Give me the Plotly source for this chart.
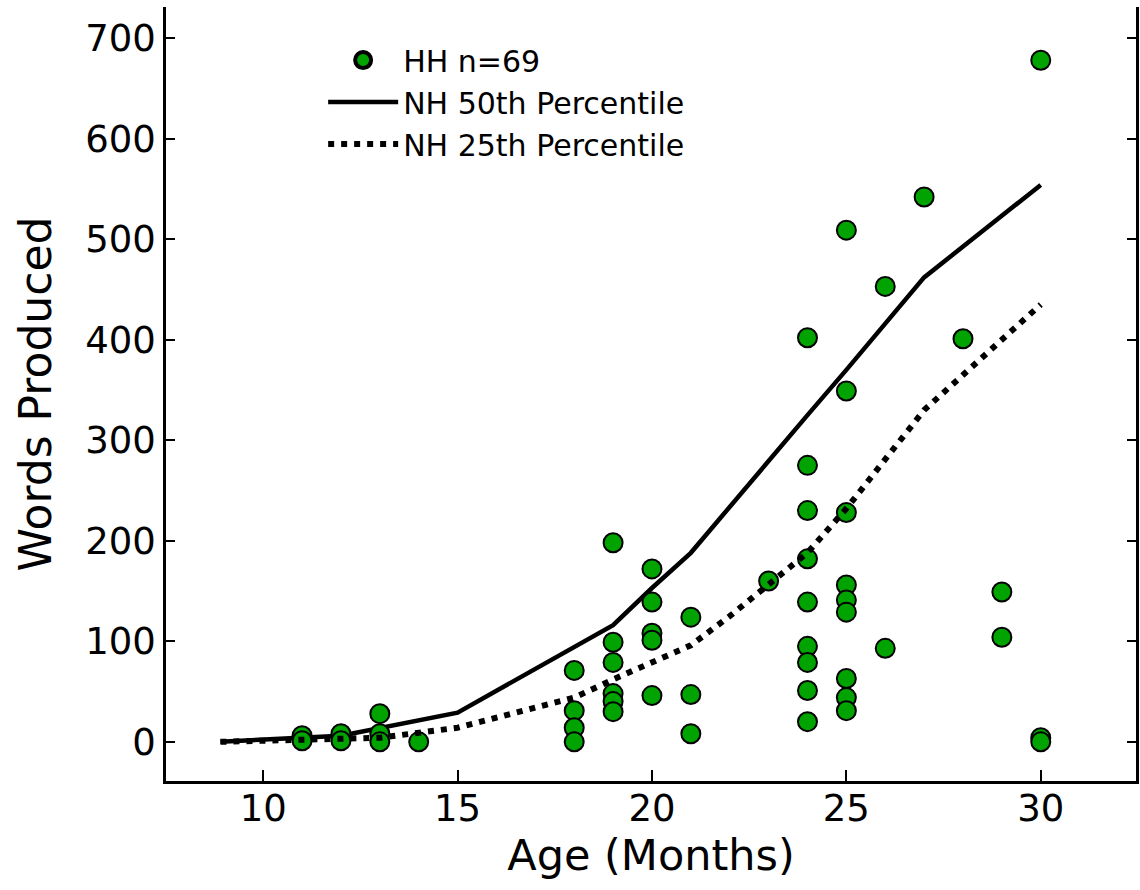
import plotly.graph_objects as go

# HH children: age (months) and words produced
hh_age = [11, 11, 12, 12, 13, 13, 13, 14,
          18, 18, 18, 18,
          19, 19, 19, 19, 19, 19,
          20, 20, 20, 20, 20,
          21, 21, 21,
          23,
          24, 24, 24, 24, 24, 24, 24, 24, 24,
          25, 25, 25, 25, 25, 25, 25, 25, 25,
          26, 26, 27, 28, 29, 29, 30, 30, 30]
hh_words = [6, 1, 8, 1, 28, 8, 0, 0,
            71, 31, 14, 0,
            198, 99, 79, 48, 40, 30,
            172, 139, 108, 101, 46,
            124, 47, 8,
            160,
            402, 275, 230, 182, 139, 95, 79, 51, 20,
            509, 349, 228, 156, 141, 129, 63, 44, 31,
            453, 93, 542, 401, 149, 104, 678, 4, 0]

# NH norms
p50_age = [8.9, 12, 15, 18, 19, 20, 21, 24, 25, 27, 30]
p50_words = [0, 6, 29, 95, 116, 153, 188, 325, 370, 462, 554]
p25_age = [8.9, 12, 13, 15, 18, 19, 20, 21, 22, 23, 24, 25, 27, 30]
p25_words = [0, 2, 4, 14, 44, 62, 79, 96, 125, 157, 188, 232, 330, 435]

x_ticks = [10, 15, 20, 25, 30]
y_ticks = [0, 100, 200, 300, 400, 500, 600, 700]

FONT = "DejaVu Sans"
GREEN = "#00a300"

fig = go.Figure()
fig.add_trace(go.Scatter(
    x=p50_age, y=p50_words, mode="lines", name="NH 50th Percentile",
    line=dict(color="black", width=4.5), legendrank=2))
fig.add_trace(go.Scatter(
    x=hh_age, y=hh_words, mode="markers", name="HH n=69", showlegend=False,
    marker=dict(size=19, color=GREEN, line=dict(color="black", width=2))))
# legend entry for the HH group (thicker outline, as in the original key)
fig.add_trace(go.Scatter(
    x=[None], y=[None], mode="markers", name="HH n=69",
    marker=dict(size=16, color=GREEN, line=dict(color="black", width=4)),
    legendrank=1))
fig.add_trace(go.Scatter(
    x=p25_age, y=p25_words, mode="lines", name="NH 25th Percentile",
    line=dict(color="black", width=6, dash="6px,7px"), legendrank=3))

fig.update_layout(
    width=1140, height=890,
    margin=dict(l=166, r=1, t=7, b=109),
    plot_bgcolor="white", paper_bgcolor="white",
    font=dict(family=FONT, color="black"),
    showlegend=True,
    legend=dict(x=0.162, y=0.965, xanchor="left", yanchor="top",
                bgcolor="rgba(0,0,0,0)", font=dict(size=30, family=FONT),
                itemwidth=70, itemsizing="trace", tracegroupgap=0),
    xaxis=dict(range=[7.5, 32.45], tickvals=x_ticks, showgrid=False, zeroline=False,
               showline=True, linecolor="black", linewidth=2.5,
               ticks="inside", ticklen=11, tickwidth=1.5, tickcolor="black",
               tickfont=dict(size=37, family=FONT), ticklabelstandoff=-7,
               title=dict(text="Age (Months)", font=dict(size=43, family=FONT), standoff=11)),
    xaxis2=dict(range=[7.5, 32.45], tickvals=x_ticks, overlaying="x", side="top",
                showgrid=False, zeroline=False, showline=False, showticklabels=False,
                ticks="inside", ticklen=4, tickwidth=1.5, tickcolor="black"),
    yaxis=dict(range=[-39, 731], tickvals=y_ticks, showgrid=False, zeroline=False,
               showline=True, linecolor="black", linewidth=2.5, mirror="ticks",
               ticks="inside", ticklen=9, tickwidth=1.5, tickcolor="black",
               tickfont=dict(size=37, family=FONT),
               title=dict(text="Words Produced", font=dict(size=44, family=FONT), standoff=20)),
)

fig.write_html("out.html")
